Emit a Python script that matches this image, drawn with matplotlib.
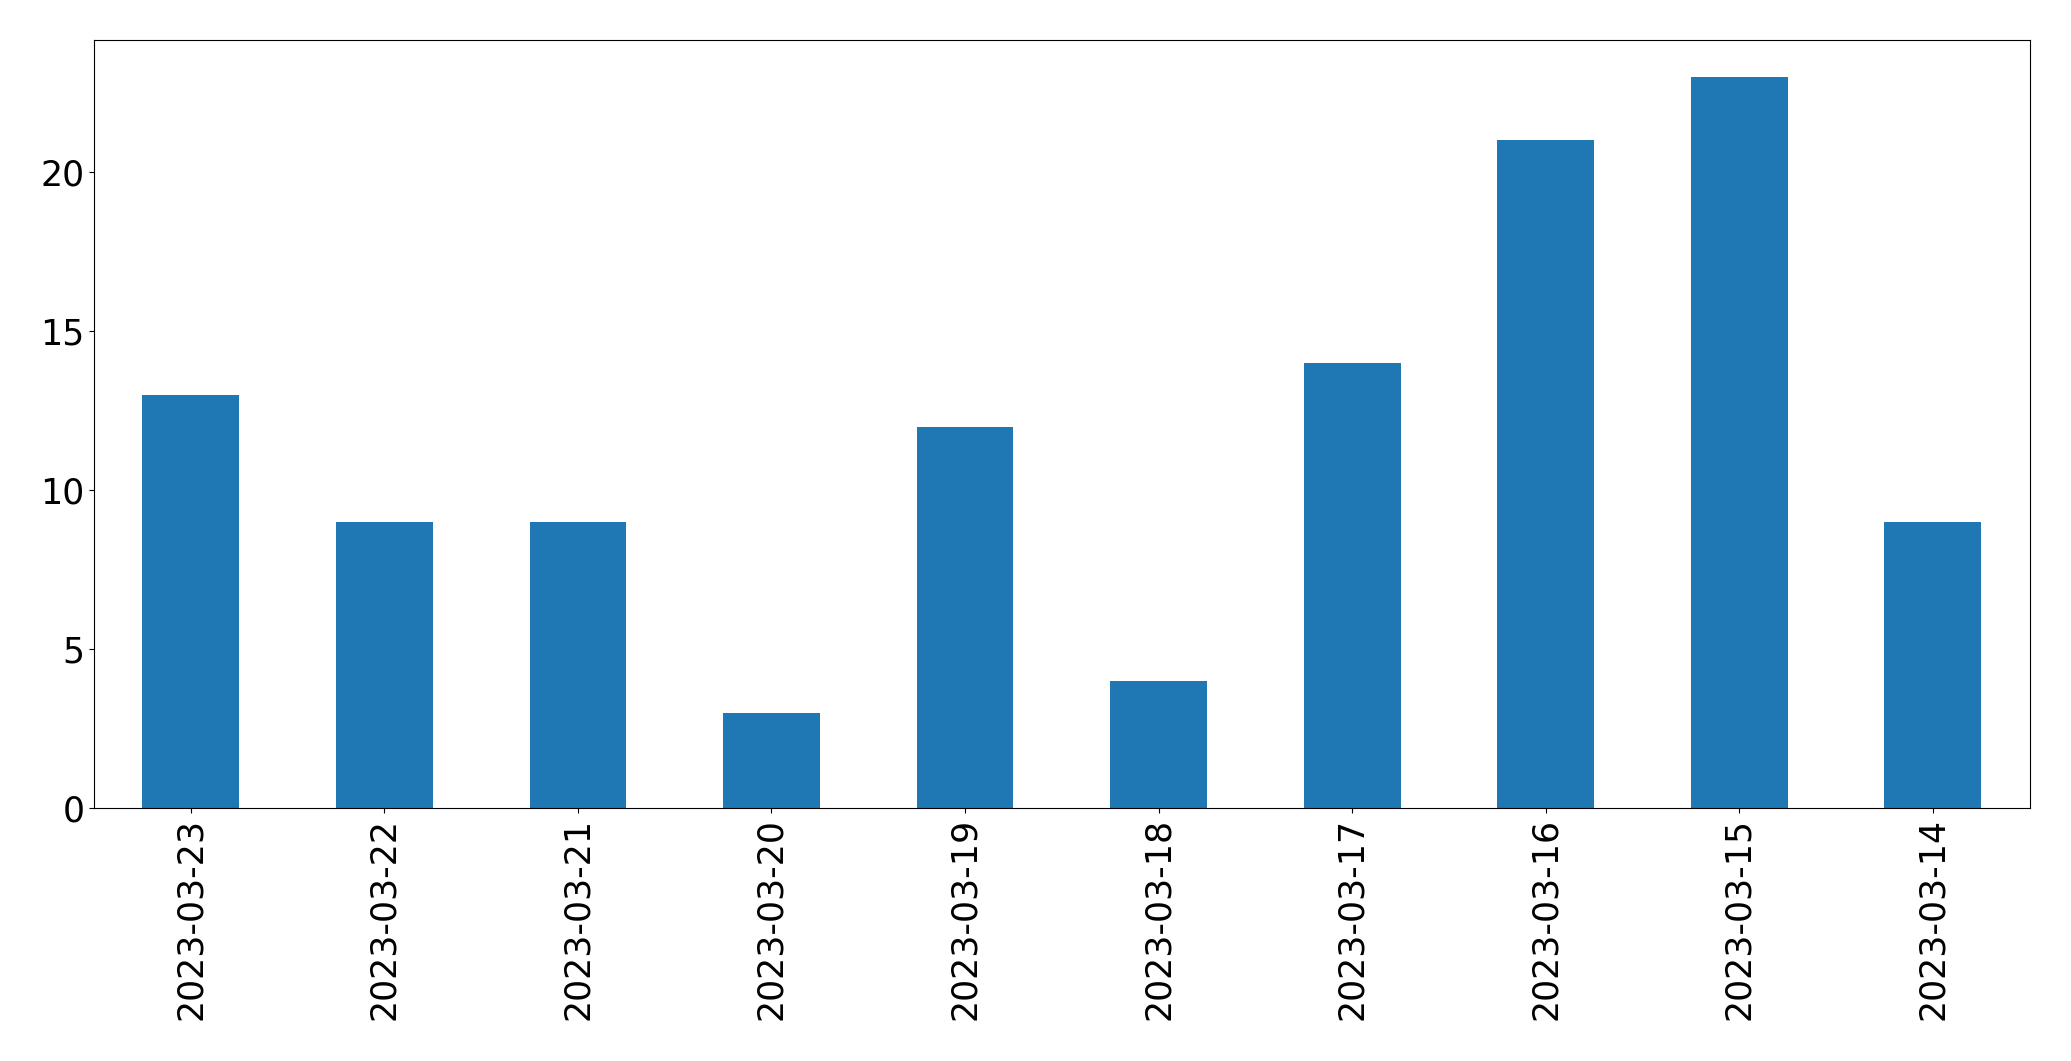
import matplotlib
matplotlib.use('Agg')
import matplotlib.pyplot as plt
import numpy as np

# Data
dates = ['2023-03-23', '2023-03-22', '2023-03-21', '2023-03-20', '2023-03-19',
         '2023-03-18', '2023-03-17', '2023-03-16', '2023-03-15', '2023-03-14']
counts = [13, 9, 9, 3, 12, 4, 14, 21, 23, 9]

plt.rcParams['font.size'] = 25

fig, ax = plt.subplots(figsize=(20.71, 10.61), dpi=100)
fig.subplots_adjust(left=0.0454, right=0.980, top=0.962, bottom=0.2385)

x = np.arange(len(dates))
ax.bar(x, counts, width=0.5, color='#1f77b4')
ax.set_xticks(x)
ax.set_xticklabels(dates, rotation=90)
ax.set_xlim(-0.5, len(dates) - 0.5)
ax.set_ylim(0, max(counts) * 1.05)
ax.set_yticks([0, 5, 10, 15, 20])

fig.savefig('out.png', dpi=100)
